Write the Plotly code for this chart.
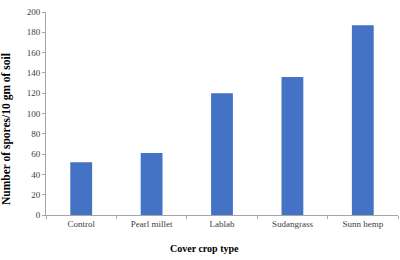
import plotly.graph_objects as go

categories = ["Control", "Pearl millet", "Lablab", "Sudangrass", "Sunn hemp"]
spores = [52, 61, 120, 136, 187]
y_ticks = [0, 20, 40, 60, 80, 100, 120, 140, 160, 180, 200]

fig = go.Figure(go.Bar(x=categories, y=spores, marker=dict(color="#4472C4", line=dict(width=0))))

fig.update_layout(
    width=400, height=260,
    margin=dict(l=46, r=2, t=12, b=45),
    paper_bgcolor="white", plot_bgcolor="white",
    bargap=0.69, showlegend=False,
    font=dict(family="Liberation Serif", size=9, color="#404040"),
)
fig.update_xaxes(
    showline=True, linecolor="#a6a6a6", linewidth=1,
    ticks="outside", tickson="boundaries", ticklen=3, tickcolor="#a6a6a6",
    tickfont=dict(size=9, color="#404040"),
)
fig.update_yaxes(
    range=[0, 200], tickvals=y_ticks, showgrid=False, zeroline=False,
    showline=True, linecolor="#a6a6a6", linewidth=1,
    ticks="outside", ticklen=3, tickcolor="#a6a6a6",
    tickfont=dict(size=9, color="#404040"),
)
fig.add_annotation(
    text="<b>Number of spores/10 gm of soil</b>",
    xref="paper", yref="paper", x=0, y=0.4236, xshift=-40,
    xanchor="center", yanchor="middle", textangle=-90, showarrow=False,
    font=dict(family="Liberation Serif", size=11.5, color="black"),
)
fig.add_annotation(
    text="<b>Cover crop type</b>",
    xref="paper", yref="paper", x=0.4517, y=-0.1626,
    xanchor="center", yanchor="middle", showarrow=False,
    font=dict(family="Liberation Serif", size=10, color="black"),
)
fig.write_html("out.html")
